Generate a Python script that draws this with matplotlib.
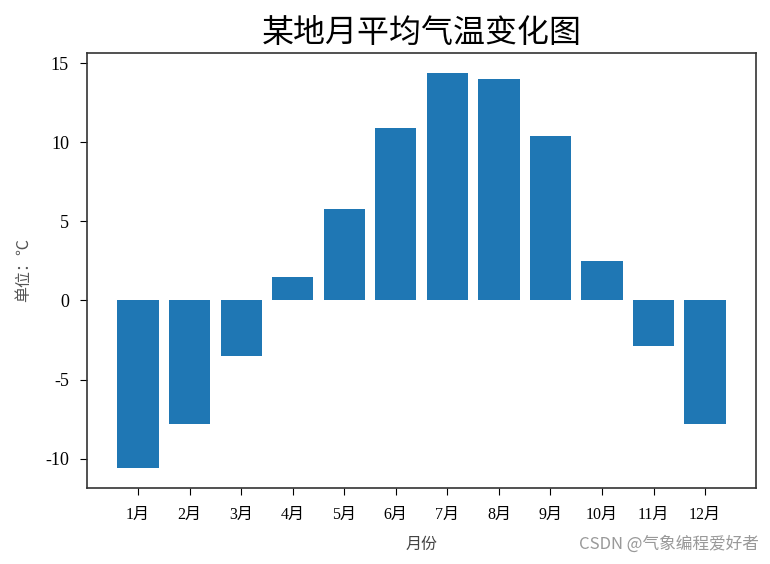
import matplotlib
matplotlib.use("Agg")
import numpy as np
from matplotlib import pyplot as plt

# 月平均气温数据
months = ["1月", "2月", "3月", "4月", "5月", "6月",
          "7月", "8月", "9月", "10月", "11月", "12月"]
temps = [-10.6, -7.8, -3.5, 1.5, 5.8, 10.9, 14.4, 14.0, 10.4, 2.5, -2.9, -7.8]

plt.rcParams['font.family'] = ['Liberation Serif', 'Noto Sans CJK SC']
plt.rcParams['axes.unicode_minus'] = False

fig = plt.figure(figsize=(7.7, 5.64), dpi=100)
ax = fig.add_axes([0.113, 0.135, 0.869, 0.771])

x = np.arange(1, len(months) + 1)
ax.bar(x, temps, width=0.8, color="#1f77b4")

ax.set_xticks(x)
ax.set_xticklabels(months, fontsize=11.5)
ax.tick_params(axis='x', length=5, pad=9)
ax.tick_params(axis='y', labelsize=13, length=5, pad=8)
for s in ax.spines.values():
    s.set_color("#333333")
    s.set_linewidth(1.2)

ax.set_title("某地月平均气温变化图", fontsize=23, family=['Noto Sans CJK SC'], pad=8)
ax.set_xlabel("月份", fontsize=11.5, color="#444444", labelpad=10)
ax.set_ylabel("单位：℃", fontsize=11.5, color="#555555", labelpad=9,
              family=['Noto Sans CJK SC', 'DejaVu Sans'])

fig.text(0.985, 0.02, "CSDN @气象编程爱好者", ha="right", va="bottom",
         fontsize=12, color="#999999", family=['Noto Sans CJK SC'])

fig.savefig("out.png", dpi=100)
